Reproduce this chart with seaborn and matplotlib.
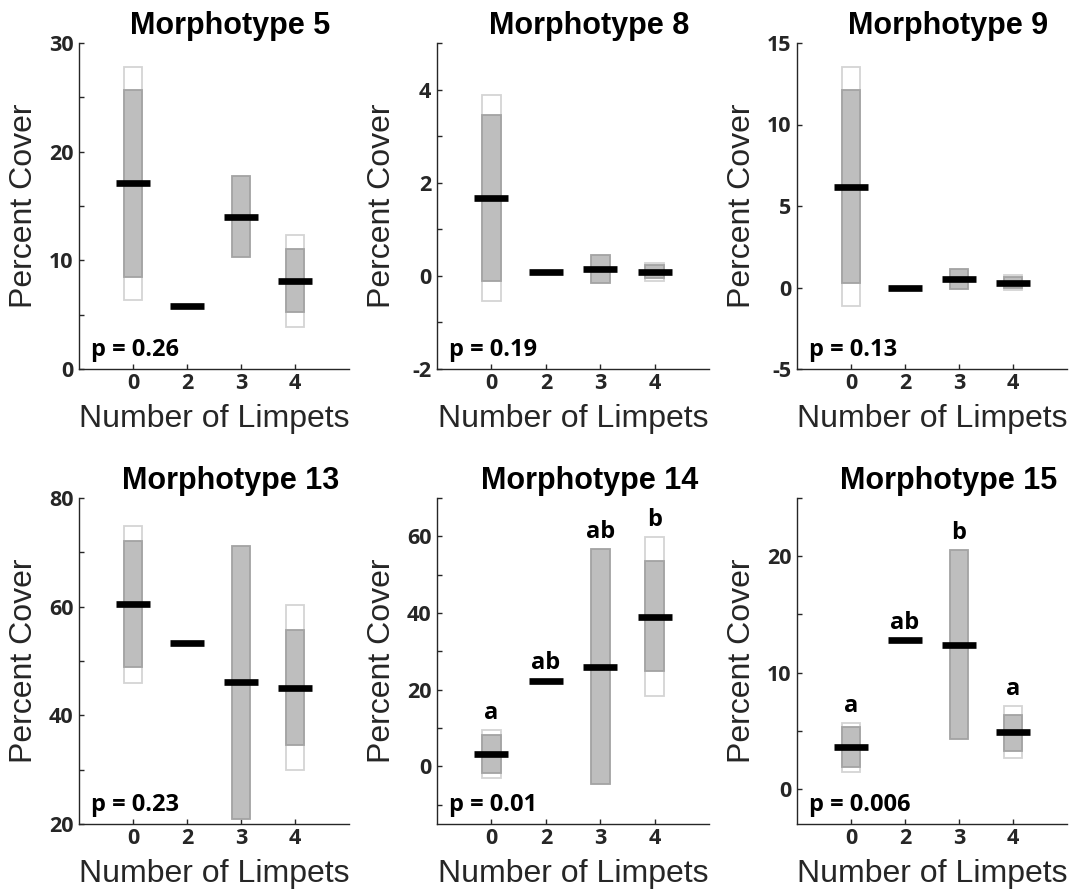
import numpy as np
import pandas as pd
import matplotlib
matplotlib.use("Agg")
import matplotlib.pyplot as plt
import seaborn as sns

nan = np.nan

# ---------------- data ----------------
categories = ["0", "2", "3", "4"]

titles = ["Morphotype 5", "Morphotype 8", "Morphotype 9",
          "Morphotype 13", "Morphotype 14", "Morphotype 15"]
p_labels = ["p = 0.26", "p = 0.19", "p = 0.13", "p = 0.23", "p = 0.01", "p = 0.006"]

# means (black bars)
mp5_mean = [17.1, 5.8, 14.0, 8.1]
mp8_mean = [1.68, 0.08, 0.15, 0.09]
mp9_mean = [6.17, 0.0, 0.52, 0.30]
mp13_mean = [60.4, 53.3, 46.1, 45.1]
mp14_mean = [3.2, 22.4, 26.0, 39.1]
mp15_mean = [3.6, 12.8, 12.4, 4.9]

# grey boxes (lower / upper)
mp5_grey_lo = [8.5, nan, 10.3, 5.2]
mp5_grey_hi = [25.7, nan, 17.8, 11.0]
mp8_grey_lo = [-0.12, nan, -0.16, -0.04]
mp8_grey_hi = [3.46, nan, 0.44, 0.23]
mp9_grey_lo = [0.26, nan, -0.11, -0.05]
mp9_grey_hi = [12.1, nan, 1.16, 0.62]
mp13_grey_lo = [48.9, nan, 21.0, 34.5]
mp13_grey_hi = [72.1, nan, 71.1, 55.7]
mp14_grey_lo = [-1.8, nan, -4.6, 24.9]
mp14_grey_hi = [8.2, nan, 56.6, 53.5]
mp15_grey_lo = [1.9, nan, 4.3, 3.3]
mp15_grey_hi = [5.3, nan, 20.5, 6.4]

# white outlined boxes (lower / upper)
mp5_white_lo = [6.35, nan, nan, 3.9]
mp5_white_hi = [27.8, nan, nan, 12.3]
mp8_white_lo = [-0.55, nan, nan, -0.10]
mp8_white_hi = [3.89, nan, nan, 0.28]
mp9_white_lo = [-1.16, nan, nan, -0.17]
mp9_white_hi = [13.5, nan, nan, 0.77]
mp13_white_lo = [46.0, nan, nan, 29.9]
mp13_white_hi = [74.9, nan, nan, 60.3]
mp14_white_lo = [-3.1, nan, nan, 18.4]
mp14_white_hi = [9.4, nan, nan, 59.8]
mp15_white_lo = [1.5, nan, nan, 2.7]
mp15_white_hi = [5.7, nan, nan, 7.1]

# significance letters
mp14_letters = ["a", "ab", "ab", "b"]
mp15_letters = ["a", "ab", "b", "a"]

# y axes
ylims = [(0, 30), (-2, 5), (-5, 15), (20, 80), (-15, 70), (-3, 25)]
ymajor = [[0, 10, 20, 30], [-2, 0, 2, 4], [-5, 0, 5, 10, 15],
          [20, 40, 60, 80], [0, 20, 40, 60], [0, 10, 20]]
yminor = [[5, 15, 25], [-1, 1, 3, 5], [], [30, 50, 70],
          [-10, 10, 30, 50, 70], [5, 15, 25]]

panels = [
    (mp5_mean, mp5_grey_lo, mp5_grey_hi, mp5_white_lo, mp5_white_hi, None),
    (mp8_mean, mp8_grey_lo, mp8_grey_hi, mp8_white_lo, mp8_white_hi, None),
    (mp9_mean, mp9_grey_lo, mp9_grey_hi, mp9_white_lo, mp9_white_hi, None),
    (mp13_mean, mp13_grey_lo, mp13_grey_hi, mp13_white_lo, mp13_white_hi, None),
    (mp14_mean, mp14_grey_lo, mp14_grey_hi, mp14_white_lo, mp14_white_hi, mp14_letters),
    (mp15_mean, mp15_grey_lo, mp15_grey_hi, mp15_white_lo, mp15_white_hi, mp15_letters),
]

# ---------------- style ----------------
sns.set_theme(style="ticks")
plt.rcParams["font.family"] = ["Liberation Sans", "DejaVu Sans"]

AX_COLOR = "#262626"
TICK_FONT = dict(family="Open Sans", weight="bold", size=15.5)
ANNOT_FONT = dict(family="Open Sans", weight="bold", size=17)

W, H = 1074, 891
fig = plt.figure(figsize=(W / 100, H / 100), dpi=100)

col_left = [79, 437, 797]
col_width = [270, 272, 270]
row_top = [43, 498]
ax_h = 326

for i, (means, glo, ghi, wlo, whi, letters) in enumerate(panels):
    r, c = divmod(i, 3)
    left = col_left[c] / W
    bottom = (H - row_top[r] - ax_h) / H
    ax = fig.add_axes([left, bottom, col_width[c] / W, ax_h / H])

    df = pd.DataFrame({
        "cat": categories,
        "pos": np.arange(1, len(categories) + 1),
        "mean": means, "glo": glo, "ghi": ghi, "wlo": wlo, "whi": whi,
    })

    bw = 0.345
    # white outlined boxes (behind)
    wd = df.dropna(subset=["wlo"])
    ax.bar(wd["pos"], wd["whi"] - wd["wlo"], bottom=wd["wlo"], width=bw,
           color="white", edgecolor="#d4d4d4", linewidth=1.3, zorder=2)
    # grey boxes
    gd = df.dropna(subset=["glo"])
    ax.bar(gd["pos"], gd["ghi"] - gd["glo"], bottom=gd["glo"], width=bw,
           color="#bebebe", edgecolor="#a3a3a3", linewidth=1.3, zorder=3)
    # means
    sns.scatterplot(data=df, x="pos", y="mean", marker="_", s=590,
                    linewidth=4.8, color="black", ax=ax, zorder=4, legend=False)

    # letters
    if letters is not None:
        tops = df[["mean", "ghi", "whi"]].max(axis=1)
        for p, t, lab in zip(df["pos"], tops, letters):
            ax.annotate(lab, (p, t), xytext=(0, 8), textcoords="offset points",
                        ha="center", va="baseline", color="black", **ANNOT_FONT)

    ax.set_xlim(0, 5)
    ax.set_ylim(*ylims[i])
    ax.set_xticks(df["pos"])
    ax.set_xticklabels(categories)
    ax.set_yticks(ymajor[i])
    ax.set_yticklabels([str(v) for v in ymajor[i]])
    ax.set_yticks(yminor[i], minor=True)
    ax.set_xlabel("")
    ax.set_ylabel("")

    for lab in ax.get_xticklabels() + ax.get_yticklabels():
        lab.set_fontfamily(TICK_FONT["family"])
        lab.set_fontweight(TICK_FONT["weight"])
        lab.set_fontsize(TICK_FONT["size"])
        lab.set_color(AX_COLOR)

    ax.tick_params(axis="both", which="both", direction="in", length=3.5,
                   width=1.0, color=AX_COLOR)
    ax.tick_params(axis="x", pad=3)
    ax.tick_params(axis="y", pad=4)
    sns.despine(ax=ax)
    for s in ["left", "bottom"]:
        ax.spines[s].set_color(AX_COLOR)
        ax.spines[s].set_linewidth(1.0)
    ax.set_facecolor("white")

    ax.text(0.56, 1 + 9 / ax_h, titles[i], transform=ax.transAxes,
            ha="center", va="baseline", fontsize=22, fontweight="bold",
            family="Liberation Sans", color="black")
    ax.text(-55 / col_width[c], 0.5, "Percent Cover", transform=ax.transAxes,
            rotation=90, ha="center", va="center", fontsize=23,
            family="Liberation Sans", color=AX_COLOR)
    ax.text(0.5, -58 / ax_h, "Number of Limpets", transform=ax.transAxes,
            ha="center", va="baseline", fontsize=23,
            family="Liberation Sans", color=AX_COLOR)
    ax.text(0.045, 0.04, p_labels[i], transform=ax.transAxes,
            ha="left", va="baseline", color="black", **ANNOT_FONT)

fig.savefig("out.png", dpi=100, facecolor="white")
